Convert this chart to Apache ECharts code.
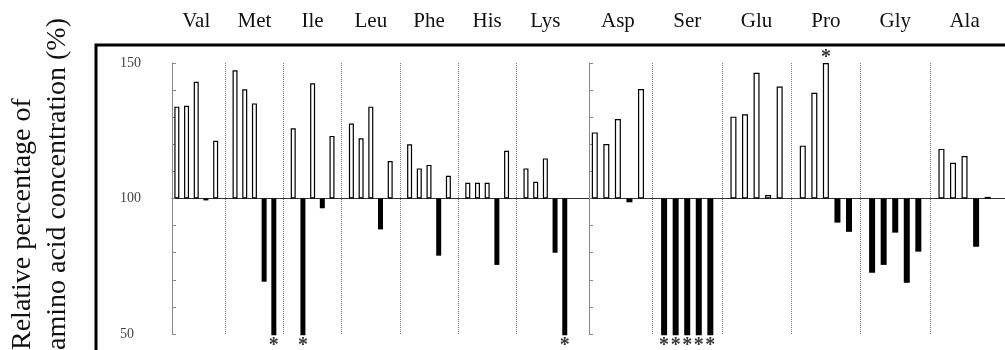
<!DOCTYPE html>
<html><head><meta charset="utf-8">
<script src="https://cdn.jsdelivr.net/npm/echarts@6/dist/echarts.min.js"></script>
<style>html,body{margin:0;padding:0;background:#fff}#c{width:1005px;height:350px}</style>
</head><body><div id="c"></div>
<script>
// ---- data ----
const aminoAcids = ['Val','Met','Ile','Leu','Phe','His','Lys','Asp','Ser','Glu','Pro','Gly','Ala'];
const cond1 = [133.9,147.3,125.9,127.7,120.0,105.8,111.1,124.4,49.5,130.2,119.5,72.6,118.3];
const cond2 = [134.2,140.3, 49.5,122.2,111.1,105.8,106.2,120.1,49.5,131.1,139.0,75.5,113.2];
const cond3 = [143.1,135.1,142.5,133.9,112.4,105.8,114.8,129.3,49.5,146.4,150.0,87.4,115.7];
const cond4 = [ 99.3, 69.3, 96.4, 88.6, 78.9, 75.5, 80.0, 98.6,49.5,101.3, 91.1,68.9, 82.2];
const cond5 = [121.3, 49.5,123.1,113.8,108.4,117.6, 49.5,140.4,49.5,141.3, 87.7,80.4,100.6];
const starredAcid = [1,2,6,8,8,8,8,8,10];
const starredCond = [4,1,4,0,1,2,3,4,2];
const yTickLabels = [50,100,150];
const baseline = 100;
const leftPanelGroups = 7;
const yTitleLine1 = 'Relative percentage of';
const yTitleLine2 = 'amino acid concentration (%)';

// ---- build ----
const conds = [cond1,cond2,cond3,cond4,cond5];
function buildPanel(from, to, pad){
  const cats=[], bars=[], stars=[], seps=[];
  for(let g=from; g<to; g++){
    for(let s=0; s<6; s++){
      const idx = cats.length;
      cats.push(aminoAcids[g]+'#'+s);
      if(s<5){
        const d = conds[s][g]-baseline;
        bars.push({value:d, itemStyle: d>=0 ? {color:'#fff',borderColor:'#000',borderWidth:1.2} : {color:'#000'}});
        for(let k=0;k<starredAcid.length;k++){
          if(starredAcid[k]===g && starredCond[k]===s){
            stars.push({value:[idx,d], label:{position: d>=0?'top':'bottom', distance: d>=0?-5:0}});
          }
        }
      } else {
        bars.push('-');
        if(g<to-1) seps.push({xAxis: idx});
      }
    }
  }
  for(let k=0;k<pad;k++){cats.push('pad'+k); bars.push('-');}
  return {cats,bars,stars,seps};
}
const L = buildPanel(0, leftPanelGroups, 1);
const R = buildPanel(leftPanelGroups, aminoAcids.length, 0);

const serif = 'Liberation Serif';
function topAxis(grid, cats){
  return {type:'category', gridIndex:grid, position:'top', data:cats,
    axisLine:{show:false,onZero:false}, axisTick:{show:false}, splitLine:{show:false},
    axisLabel:{interval:(i)=> i%6===2, formatter:(v)=>v.split('#')[0],
      fontFamily:serif, fontSize:21, color:'#111', margin:31}};
}
function bottomAxis(grid, cats){
  return {type:'category', gridIndex:grid, data:cats,
    axisLine:{onZero:true, lineStyle:{color:'#333',width:1}},
    axisTick:{show:false}, axisLabel:{show:false}, splitLine:{show:false}};
}
function yAxis(grid, labels){
  return {type:'value', gridIndex:grid, min:-50, max:50, interval:10,
    axisLine:{show:true, lineStyle:{color:'#888',width:1}},
    axisTick:{show:true, inside:true, length:4, lineStyle:{color:'#888'}},
    splitLine:{show:false},
    axisLabel:{show:labels, align:'left', margin:52, fontFamily:serif, fontSize:14, color:'#444',
      formatter:(v)=> yTickLabels.indexOf(v+baseline)>=0 ? String(v+baseline) : ''}};
}
function barSeries(ax, P, w){
  return {type:'bar', xAxisIndex:ax, yAxisIndex:ax/2, data:P.bars, barWidth:w, clip:false, silent:true,
    markLine:{silent:true, symbol:'none', label:{show:false},
      lineStyle:{type:'dotted', color:'#777', width:1}, data:P.seps}};
}
function starSeries(ax, P){
  return {type:'scatter', xAxisIndex:ax, yAxisIndex:ax/2, data:P.stars, symbolSize:1,
    itemStyle:{color:'rgba(0,0,0,0)'}, silent:true, clip:false,
    label:{show:true, formatter:'*', fontFamily:serif, fontSize:20, fontWeight:'bold', color:'#000'}};
}

const chart = echarts.init(document.getElementById('c'), null, {renderer:'canvas'});
chart.setOption({
  animation:false,
  backgroundColor:'#fff',
  grid:[{left:172, top:63, width:417, height:271},{left:589, top:63, width:427, height:271}],
  xAxis:[bottomAxis(0,L.cats), topAxis(0,L.cats), bottomAxis(1,R.cats), topAxis(1,R.cats)],
  yAxis:[yAxis(0,true), yAxis(1,false)],
  series:[barSeries(0,L,5), starSeries(0,L), barSeries(2,R,6), starSeries(2,R)],
  graphic:[
    {type:'polyline', shape:{points:[[96,352],[96,45],[1008,45]]}, style:{stroke:'#000', lineWidth:3, fill:null}, silent:true},
    {type:'text', x:22.5, y:350, rotation:Math.PI/2, style:{text:yTitleLine1, font:'28px "Liberation Serif"', fill:'#111', align:'left', verticalAlign:'middle'}},
    {type:'text', x:57.5, y:350, rotation:Math.PI/2, style:{text:yTitleLine2, font:'28px "Liberation Serif"', fill:'#111', align:'left', verticalAlign:'middle'}}
  ]
});
</script></body></html>
